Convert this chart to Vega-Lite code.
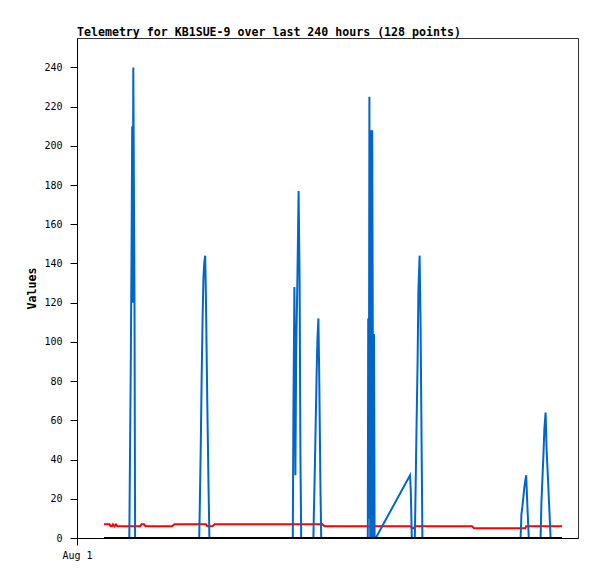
{
  "$schema": "https://vega.github.io/schema/vega-lite/v6.json",
  "width": 501,
  "height": 500,
  "autosize": "none",
  "padding": {"left": 77, "top": 38, "right": 19, "bottom": 41},
  "background": "white",
  "title": {
    "text": "Telemetry for KB1SUE-9 over last 240 hours (128 points)",
    "anchor": "start",
    "frame": "group",
    "font": "DejaVu Sans Mono",
    "fontSize": 11.6,
    "fontWeight": "bold",
    "color": "black",
    "offset": -1
  },
  "config": {
    "view": {"stroke": "#333", "strokeWidth": 1},
    "axis": {
      "labelFont": "DejaVu Sans Mono",
      "labelFontSize": 10,
      "labelColor": "black",
      "tickColor": "black",
      "tickSize": 7,
      "grid": false,
      "titleFont": "DejaVu Sans Mono",
      "titleFontSize": 11.6,
      "titleFontWeight": "bold",
      "titleColor": "black"
    }
  },
  "data": {
    "values": [
      {"t": "2024-08-01T13:30", "v1": 0, "v2": 7, "v3": 0},
      {"t": "2024-08-01T15:00", "v1": 0, "v2": 7, "v3": 0},
      {"t": "2024-08-01T16:15", "v1": 0, "v2": 7, "v3": 0},
      {"t": "2024-08-01T16:45", "v1": 0, "v2": 6, "v3": 0},
      {"t": "2024-08-01T17:30", "v1": 0, "v2": 6, "v3": 0},
      {"t": "2024-08-01T18:00", "v1": 0, "v2": 7, "v3": 0},
      {"t": "2024-08-01T18:45", "v1": 0, "v2": 6, "v3": 0},
      {"t": "2024-08-01T19:30", "v1": 0, "v2": 7, "v3": 0},
      {"t": "2024-08-01T20:15", "v1": 0, "v2": 6, "v3": 0},
      {"t": "2024-08-01T22:30", "v1": 0, "v2": 6, "v3": 0},
      {"t": "2024-08-02T00:30", "v1": 0, "v2": 6, "v3": 0},
      {"t": "2024-08-02T02:09", "v1": 0, "v2": 6, "v3": 0},
      {"t": "2024-08-02T02:24", "v1": 30, "v2": 6, "v3": 0},
      {"t": "2024-08-02T02:54", "v1": 90, "v2": 6, "v3": 0},
      {"t": "2024-08-02T03:18", "v1": 150, "v2": 6, "v3": 0},
      {"t": "2024-08-02T03:36", "v1": 210, "v2": 6, "v3": 0},
      {"t": "2024-08-02T03:51", "v1": 120, "v2": 6, "v3": 0},
      {"t": "2024-08-02T04:09", "v1": 240, "v2": 6, "v3": 0},
      {"t": "2024-08-02T04:45", "v1": 120, "v2": 6, "v3": 0},
      {"t": "2024-08-02T05:03", "v1": 0, "v2": 6, "v3": 0},
      {"t": "2024-08-02T06:30", "v1": 0, "v2": 6, "v3": 0},
      {"t": "2024-08-02T07:30", "v1": 0, "v2": 6, "v3": 0},
      {"t": "2024-08-02T08:15", "v1": 0, "v2": 7, "v3": 0},
      {"t": "2024-08-02T09:30", "v1": 0, "v2": 7, "v3": 0},
      {"t": "2024-08-02T10:15", "v1": 0, "v2": 6, "v3": 0},
      {"t": "2024-08-02T12:30", "v1": 0, "v2": 6, "v3": 0},
      {"t": "2024-08-02T17:30", "v1": 0, "v2": 6, "v3": 0},
      {"t": "2024-08-02T20:30", "v1": 0, "v2": 6, "v3": 0},
      {"t": "2024-08-02T23:30", "v1": 0, "v2": 6, "v3": 0},
      {"t": "2024-08-03T00:45", "v1": 0, "v2": 7, "v3": 0},
      {"t": "2024-08-03T03:30", "v1": 0, "v2": 7, "v3": 0},
      {"t": "2024-08-03T09:30", "v1": 0, "v2": 7, "v3": 0},
      {"t": "2024-08-03T12:00", "v1": 0, "v2": 7, "v3": 0},
      {"t": "2024-08-03T13:06", "v1": 0, "v2": 7, "v3": 0},
      {"t": "2024-08-03T13:24", "v1": 16, "v2": 7, "v3": 0},
      {"t": "2024-08-03T13:54", "v1": 48, "v2": 7, "v3": 0},
      {"t": "2024-08-03T14:18", "v1": 80, "v2": 7, "v3": 0},
      {"t": "2024-08-03T14:48", "v1": 112, "v2": 7, "v3": 0},
      {"t": "2024-08-03T15:12", "v1": 132, "v2": 7, "v3": 0},
      {"t": "2024-08-03T15:36", "v1": 140, "v2": 7, "v3": 0},
      {"t": "2024-08-03T16:06", "v1": 144, "v2": 7, "v3": 0},
      {"t": "2024-08-03T16:30", "v1": 120, "v2": 7, "v3": 0},
      {"t": "2024-08-03T17:06", "v1": 72, "v2": 6, "v3": 0},
      {"t": "2024-08-03T17:48", "v1": 24, "v2": 6, "v3": 0},
      {"t": "2024-08-03T18:12", "v1": 0, "v2": 6, "v3": 0},
      {"t": "2024-08-03T19:42", "v1": 0, "v2": 6, "v3": 0},
      {"t": "2024-08-03T20:48", "v1": 0, "v2": 7, "v3": 0},
      {"t": "2024-08-04T00:30", "v1": 0, "v2": 7, "v3": 0},
      {"t": "2024-08-04T10:30", "v1": 0, "v2": 7, "v3": 0},
      {"t": "2024-08-04T20:30", "v1": 0, "v2": 7, "v3": 0},
      {"t": "2024-08-05T06:30", "v1": 0, "v2": 7, "v3": 0},
      {"t": "2024-08-05T10:30", "v1": 0, "v2": 7, "v3": 0},
      {"t": "2024-08-05T11:54", "v1": 0, "v2": 7, "v3": 0},
      {"t": "2024-08-05T12:12", "v1": 64, "v2": 7, "v3": 0},
      {"t": "2024-08-05T12:42", "v1": 128, "v2": 7, "v3": 0},
      {"t": "2024-08-05T13:12", "v1": 32, "v2": 7, "v3": 0},
      {"t": "2024-08-05T13:36", "v1": 96, "v2": 7, "v3": 0},
      {"t": "2024-08-05T14:12", "v1": 132, "v2": 7, "v3": 0},
      {"t": "2024-08-05T14:48", "v1": 177, "v2": 7, "v3": 0},
      {"t": "2024-08-05T15:18", "v1": 132, "v2": 7, "v3": 0},
      {"t": "2024-08-05T15:42", "v1": 44, "v2": 7, "v3": 0},
      {"t": "2024-08-05T16:06", "v1": 0, "v2": 7, "v3": 0},
      {"t": "2024-08-05T19:00", "v1": 0, "v2": 7, "v3": 0},
      {"t": "2024-08-05T22:12", "v1": 0, "v2": 7, "v3": 0},
      {"t": "2024-08-05T22:24", "v1": 11, "v2": 7, "v3": 0},
      {"t": "2024-08-05T22:54", "v1": 34, "v2": 7, "v3": 0},
      {"t": "2024-08-05T23:18", "v1": 56, "v2": 7, "v3": 0},
      {"t": "2024-08-05T23:48", "v1": 83, "v2": 7, "v3": 0},
      {"t": "2024-08-06T00:12", "v1": 101, "v2": 7, "v3": 0},
      {"t": "2024-08-06T00:42", "v1": 112, "v2": 7, "v3": 0},
      {"t": "2024-08-06T01:06", "v1": 84, "v2": 7, "v3": 0},
      {"t": "2024-08-06T01:42", "v1": 28, "v2": 7, "v3": 0},
      {"t": "2024-08-06T02:06", "v1": 0, "v2": 7, "v3": 0},
      {"t": "2024-08-06T02:42", "v1": 0, "v2": 7, "v3": 0},
      {"t": "2024-08-06T03:42", "v1": 0, "v2": 6, "v3": 0},
      {"t": "2024-08-06T13:30", "v1": 0, "v2": 6, "v3": 0},
      {"t": "2024-08-06T22:30", "v1": 0, "v2": 6, "v3": 0},
      {"t": "2024-08-07T01:24", "v1": 0, "v2": 6, "v3": 0},
      {"t": "2024-08-07T01:36", "v1": 112, "v2": 6, "v3": 0},
      {"t": "2024-08-07T01:54", "v1": 10, "v2": 6, "v3": 0},
      {"t": "2024-08-07T02:12", "v1": 225, "v2": 6, "v3": 0},
      {"t": "2024-08-07T02:36", "v1": 0, "v2": 6, "v3": 0},
      {"t": "2024-08-07T02:54", "v1": 208, "v2": 6, "v3": 0},
      {"t": "2024-08-07T03:18", "v1": 0, "v2": 6, "v3": 0},
      {"t": "2024-08-07T03:36", "v1": 208, "v2": 6, "v3": 0},
      {"t": "2024-08-07T03:54", "v1": 104, "v2": 6, "v3": 0},
      {"t": "2024-08-07T04:12", "v1": 0, "v2": 6, "v3": 0},
      {"t": "2024-08-07T04:30", "v1": 104, "v2": 6, "v3": 0},
      {"t": "2024-08-07T04:48", "v1": 0, "v2": 6, "v3": 0},
      {"t": "2024-08-07T05:24", "v1": 0, "v2": 6, "v3": 0},
      {"t": "2024-08-07T22:30", "v1": 32, "v2": 6, "v3": 0},
      {"t": "2024-08-07T22:54", "v1": 24, "v2": 6, "v3": 0},
      {"t": "2024-08-07T23:24", "v1": 0, "v2": 5, "v3": 0},
      {"t": "2024-08-08T00:24", "v1": 0, "v2": 5, "v3": 0},
      {"t": "2024-08-08T00:54", "v1": 0, "v2": 6, "v3": 0},
      {"t": "2024-08-08T01:12", "v1": 18, "v2": 6, "v3": 0},
      {"t": "2024-08-08T01:48", "v1": 59, "v2": 6, "v3": 0},
      {"t": "2024-08-08T02:18", "v1": 90, "v2": 6, "v3": 0},
      {"t": "2024-08-08T02:42", "v1": 126, "v2": 6, "v3": 0},
      {"t": "2024-08-08T03:18", "v1": 144, "v2": 6, "v3": 0},
      {"t": "2024-08-08T03:48", "v1": 108, "v2": 6, "v3": 0},
      {"t": "2024-08-08T04:24", "v1": 36, "v2": 6, "v3": 0},
      {"t": "2024-08-08T04:42", "v1": 0, "v2": 6, "v3": 0},
      {"t": "2024-08-08T13:30", "v1": 0, "v2": 6, "v3": 0},
      {"t": "2024-08-08T23:30", "v1": 0, "v2": 6, "v3": 0},
      {"t": "2024-08-09T05:30", "v1": 0, "v2": 6, "v3": 0},
      {"t": "2024-08-09T06:30", "v1": 0, "v2": 5, "v3": 0},
      {"t": "2024-08-09T14:30", "v1": 0, "v2": 5, "v3": 0},
      {"t": "2024-08-09T22:00", "v1": 0, "v2": 5, "v3": 0},
      {"t": "2024-08-10T05:48", "v1": 0, "v2": 5, "v3": 0},
      {"t": "2024-08-10T06:12", "v1": 12, "v2": 5, "v3": 0},
      {"t": "2024-08-10T06:42", "v1": 16, "v2": 5, "v3": 0},
      {"t": "2024-08-10T07:06", "v1": 20, "v2": 5, "v3": 0},
      {"t": "2024-08-10T07:36", "v1": 25, "v2": 5, "v3": 0},
      {"t": "2024-08-10T08:06", "v1": 29, "v2": 5, "v3": 0},
      {"t": "2024-08-10T08:36", "v1": 32, "v2": 6, "v3": 0},
      {"t": "2024-08-10T09:12", "v1": 16, "v2": 6, "v3": 0},
      {"t": "2024-08-10T09:54", "v1": 0, "v2": 6, "v3": 0},
      {"t": "2024-08-10T15:48", "v1": 0, "v2": 6, "v3": 0},
      {"t": "2024-08-10T16:12", "v1": 18, "v2": 6, "v3": 0},
      {"t": "2024-08-10T16:42", "v1": 30, "v2": 6, "v3": 0},
      {"t": "2024-08-10T17:12", "v1": 42, "v2": 6, "v3": 0},
      {"t": "2024-08-10T17:42", "v1": 56, "v2": 6, "v3": 0},
      {"t": "2024-08-10T18:18", "v1": 64, "v2": 6, "v3": 0},
      {"t": "2024-08-10T18:48", "v1": 45, "v2": 6, "v3": 0},
      {"t": "2024-08-10T19:30", "v1": 30, "v2": 6, "v3": 0},
      {"t": "2024-08-10T20:48", "v1": 0, "v2": 6, "v3": 0},
      {"t": "2024-08-11T02:30", "v1": 0, "v2": 6, "v3": 0}
    ]
  },
  "encoding": {
    "x": {
      "field": "t",
      "type": "temporal",
      "scale": {
        "domain": [
          {"year": 2024, "month": 8, "date": 1},
          {"year": 2024, "month": 8, "date": 11, "hours": 10, "minutes": 30}
        ]
      },
      "axis": {
        "title": null,
        "values": [{"year": 2024, "month": 8, "date": 1}],
        "format": "%b %-d",
        "domainColor": "black",
        "tickColor": "black",
        "ticks": true,
        "labelFlush": false,
        "labelPadding": 5
      }
    }
  },
  "layer": [
    {
      "mark": {"type": "line", "color": "#ff0000", "strokeWidth": 2},
      "encoding": {
        "y": {
          "field": "v2",
          "type": "quantitative",
          "scale": {"domain": [0, 255], "nice": false},
          "axis": {
            "title": "Values",
            "values": [0, 20, 40, 60, 80, 100, 120, 140, 160, 180, 200, 220, 240],
            "domainColor": "black",
            "labelPadding": 8,
            "titlePadding": 6
          }
        }
      }
    },
    {
      "mark": {"type": "line", "color": "#0066cc", "strokeWidth": 2},
      "encoding": {"y": {"field": "v1", "type": "quantitative"}}
    },
    {
      "mark": {"type": "line", "color": "black", "strokeWidth": 2},
      "encoding": {"y": {"field": "v3", "type": "quantitative"}}
    }
  ]
}
